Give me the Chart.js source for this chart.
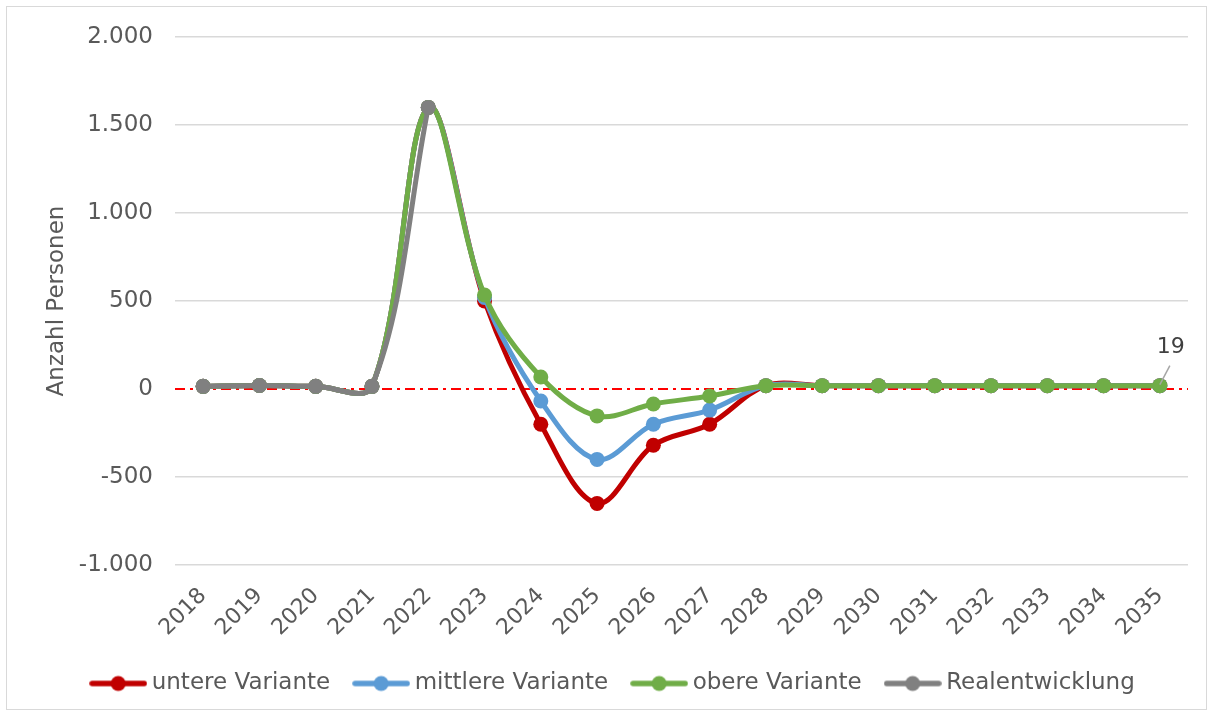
<!DOCTYPE html>
<html><head><meta charset="utf-8">
<script src="https://cdn.jsdelivr.net/npm/chart.js@4"></script>
<style>
html,body{margin:0;padding:0;background:#fff;}
#wrap{position:absolute;left:0;top:0;width:1213px;height:715px;}
#frame{position:absolute;left:6px;top:6px;width:1201px;height:704px;border:1.5px solid #d9d9d9;box-sizing:border-box;pointer-events:none}
</style></head>
<body><div id="wrap"><canvas id="c" width="1213" height="715"></canvas><div id="frame"></div></div>
<script>
// ---- data ----
const years = ['2018','2019','2020','2021','2022','2023','2024','2025','2026','2027','2028','2029','2030','2031','2032','2033','2034','2035'];
const untere   = [15, 20, 15, 15, 1600, 500, -200, -650, -320, -200, 19, 19, 19, 19, 19, 19, 19, 19];
const mittlere = [15, 20, 15, 15, 1600, 520,  -68, -400, -200, -120, 19, 19, 19, 19, 19, 19, 19, 19];
const obere    = [15, 20, 15, 15, 1600, 534,   68, -153,  -85,  -40, 19, 19, 19, 19, 19, 19, 19, 19];
const real     = [15, 20, 15, 15, 1600, null, null, null, null, null, null, null, null, null, null, null, null, null];
const seriesNames = ['untere Variante', 'mittlere Variante', 'obere Variante', 'Realentwicklung'];
const yMin = -1000, yMax = 2000, yStep = 500;
const labelText = '19';

const colors = ['#C00000', '#5B9BD5', '#70AD47', '#808080'];
const textColor = '#595959';
const FONT = "'DejaVu Sans', sans-serif";

function fmt(v){
  const s = Math.abs(v).toString().replace(/\B(?=(\d{3})+(?!\d))/g, '.');
  return (v < 0 ? '-' : '') + s;
}

function legendIcon(color){
  const c = document.createElement('canvas');
  c.width = 58; c.height = 18;
  const g = c.getContext('2d');
  g.strokeStyle = color; g.lineWidth = 5.5; g.lineCap = 'round';
  g.beginPath(); g.moveTo(3, 9); g.lineTo(55, 9); g.stroke();
  g.fillStyle = color; g.beginPath(); g.arc(29, 9, 7.5, 0, Math.PI*2); g.fill();
  return c;
}
const icons = colors.map(legendIcon);

const zeroLine = {
  id: 'zeroLine',
  beforeDatasetsDraw(chart){
    const {ctx, chartArea, scales} = chart;
    const y = scales.y.getPixelForValue(0);
    ctx.save();
    ctx.strokeStyle = '#FF0000';
    ctx.lineWidth = 2;
    ctx.setLineDash([10, 5, 3, 5]);
    ctx.beginPath(); ctx.moveTo(chartArea.left, y); ctx.lineTo(chartArea.right, y); ctx.stroke();
    ctx.restore();
  }
};

const dataLabel = {
  id: 'dataLabel',
  afterDatasetsDraw(chart){
    const meta = chart.getDatasetMeta(2);
    const pt = meta.data[meta.data.length - 1];
    const ctx = chart.ctx;
    ctx.save();
    ctx.strokeStyle = '#A6A6A6'; ctx.lineWidth = 1.5;
    ctx.beginPath(); ctx.moveTo(pt.x, pt.y - 1); ctx.lineTo(pt.x + 10, pt.y - 20); ctx.stroke();
    ctx.fillStyle = '#404040';
    ctx.font = "22px " + FONT;
    ctx.textAlign = 'center'; ctx.textBaseline = 'middle';
    ctx.fillText(labelText, pt.x + 11, pt.y - 38);
    ctx.restore();
  }
};

function ds(i, data, order){
  return {
    label: seriesNames[i], data, order,
    borderColor: colors[i], backgroundColor: colors[i],
    pointBackgroundColor: colors[i], pointBorderColor: colors[i],
    borderWidth: 5, pointRadius: 7.5, pointHoverRadius: 7.5, pointBorderWidth: 0,
    tension: 0.35, fill: false, spanGaps: false
  };
}

new Chart(document.getElementById('c'), {
  type: 'line',
  data: {
    labels: years,
    datasets: [ ds(0, untere, 4), ds(1, mittlere, 3), ds(2, obere, 2), ds(3, real, 1) ]
  },
  options: {
    responsive: false, animation: false,
    layout: { padding: { left: 43, right: 25, top: 37, bottom: 10 } },
    plugins: {
      tooltip: { enabled: false },
      legend: {
        position: 'bottom',
        labels: {
          usePointStyle: true, pointStyleWidth: 44, boxHeight: 18,
          font: { family: FONT, size: 23 }, color: textColor, padding: 29,
          generateLabels(chart){
            return seriesNames.map((n, i) => ({
              text: n, fillStyle: colors[i], strokeStyle: colors[i], lineWidth: 0,
              pointStyle: icons[i], datasetIndex: i, hidden: false, fontColor: textColor
            }));
          }
        }
      }
    },
    scales: {
      x: {
        offset: true,
        grid: { display: false, drawTicks: false },
        border: { display: false },
        ticks: { color: textColor, font: { family: FONT, size: 22 }, minRotation: 45, maxRotation: 45, padding: 18, autoSkip: false },
        afterFit(s){ s.height = 78; }
      },
      y: {
        min: yMin, max: yMax,
        grid: {
          drawTicks: false, lineWidth: 1.5,
          color: c => c.tick && c.tick.value === 0 ? 'rgba(0,0,0,0)' : '#D9D9D9'
        },
        border: { display: false },
        ticks: { stepSize: yStep, color: textColor, font: { family: FONT, size: 23 }, padding: 22, callback: v => fmt(v) },
        title: { display: true, text: 'Anzahl Personen', color: textColor, font: { family: FONT, size: 23 }, padding: 0 },
        afterFit(s){ s.width = 132; }
      }
    }
  },
  plugins: [zeroLine, dataLabel]
});
</script>
</body></html>
